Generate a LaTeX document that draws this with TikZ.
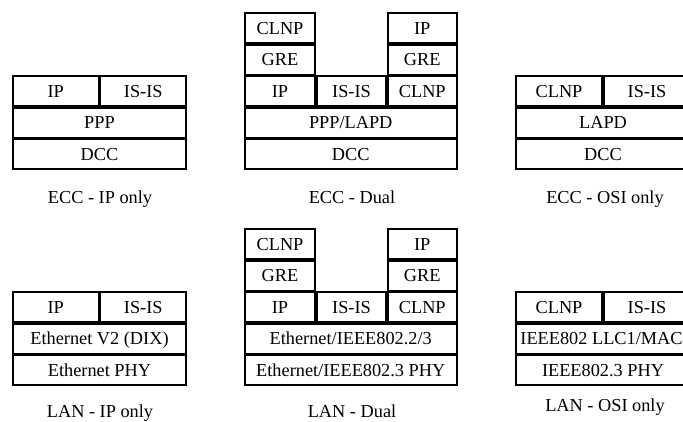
\documentclass[tikz,border=0pt]{standalone}
\usepackage{fontspec}
\setmainfont{Liberation Serif}
\tikzset{
  cellbox/.style={draw=black, line width=1.9pt, rectangle, inner sep=0pt, outer sep=0pt,
    font=\fontsize{18.3pt}{20pt}\selectfont, text height=12.1pt, text depth=0pt},
  caption/.style={inner sep=0pt, font=\fontsize{18.3pt}{20pt}\selectfont, text height=12.1pt, text depth=0pt}
}
% \mkcell{name}{x1}{y1}{x2}{y2}{text}
\newcommand{\mkcell}[6]{%
  \node[cellbox, minimum width={(#4-#2-1.4)*1pt}, minimum height={(#5-#3-1.4)*1pt}]
    (#1) at ({(#2+#4)/2},{(#3+#5)/2}) {#6};}
\begin{document}
\begin{tikzpicture}[x={(1pt,0)}, y={(0,-1pt)}]
\useasboundingbox (0,0) rectangle (683,422);
\clip (0,0) rectangle (683,422);
% ---------- ECC - IP only ----------
\mkcell{eaip}{12}{75.5}{99.5}{107}{IP}
\mkcell{eaisis}{99.5}{75.5}{187}{107}{IS-IS}
\mkcell{eappp}{12}{107}{187}{138.5}{PPP}
\mkcell{eadcc}{12}{138.5}{187}{170}{DCC}
\node[caption] (eacap) at (100,197) {ECC - IP only};
% ---------- ECC - Dual ----------
\mkcell{ebclnpa}{244}{12.5}{316}{44}{CLNP}
\mkcell{ebipb}{387}{12.5}{457.5}{44}{IP}
\mkcell{ebgrea}{244}{44}{316}{75.5}{GRE}
\mkcell{ebgreb}{387}{44}{457.5}{75.5}{GRE}
\mkcell{ebip}{244}{75.5}{316}{107}{IP}
\mkcell{ebisis}{316}{75.5}{387}{107}{IS-IS}
\mkcell{ebclnp}{387}{75.5}{457.5}{107}{CLNP}
\mkcell{ebppp}{244}{107}{457.5}{138.5}{PPP/LAPD}
\mkcell{ebdcc}{244}{138.5}{457.5}{170}{DCC}
\node[caption] (ebcap) at (352,197) {ECC - Dual};
% ---------- ECC - OSI only ----------
\mkcell{ecclnp}{515}{75.5}{603}{107}{CLNP}
\mkcell{ecisis}{603}{75.5}{691}{107}{IS-IS}
\mkcell{eclapd}{515}{107}{691}{138.5}{LAPD}
\mkcell{ecdcc}{515}{138.5}{691}{170}{DCC}
\node[caption] (eccap) at (605,197) {ECC - OSI only};
% ---------- LAN - IP only ----------
\mkcell{laip}{12}{291.5}{99.5}{323}{IP}
\mkcell{laisis}{99.5}{291.5}{187}{323}{IS-IS}
\mkcell{laeth}{12}{323}{187}{354.5}{Ethernet V2 (DIX)}
\mkcell{laphy}{12}{354.5}{187}{386}{Ethernet PHY}
\node[caption] (lacap) at (100,411) {LAN - IP only};
% ---------- LAN - Dual ----------
\mkcell{lbclnpa}{244}{228.5}{316}{260}{CLNP}
\mkcell{lbipb}{387}{228.5}{457.5}{260}{IP}
\mkcell{lbgrea}{244}{260}{316}{291.5}{GRE}
\mkcell{lbgreb}{387}{260}{457.5}{291.5}{GRE}
\mkcell{lbip}{244}{291.5}{316}{323}{IP}
\mkcell{lbisis}{316}{291.5}{387}{323}{IS-IS}
\mkcell{lbclnp}{387}{291.5}{457.5}{323}{CLNP}
\mkcell{lbeth}{244}{323}{457.5}{354.5}{Ethernet/IEEE802.2/3}
\mkcell{lbphy}{244}{354.5}{457.5}{386}{Ethernet/IEEE802.3 PHY}
\node[caption] (lbcap) at (352,411) {LAN - Dual};
% ---------- LAN - OSI only ----------
\mkcell{lcclnp}{515}{291.5}{603}{323}{CLNP}
\mkcell{lcisis}{603}{291.5}{691}{323}{IS-IS}
\mkcell{lcllc}{515}{323}{691}{354.5}{\hspace*{-3pt}IEEE802 LLC1/MAC}
\mkcell{lcphy}{515}{354.5}{691}{386}{IEEE802.3 PHY}
\node[caption] (lccap) at (605,405) {LAN - OSI only};
\end{tikzpicture}
\end{document}
